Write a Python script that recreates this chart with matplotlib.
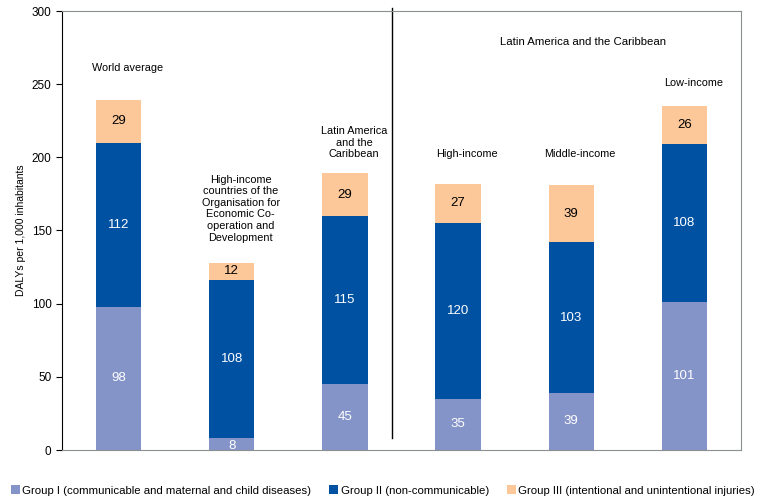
import matplotlib.pyplot as plt
import numpy as np

categories = ["World average",
              "High-income\ncountries of the\nOrganisation for\nEconomic Co-\noperation and\nDevelopment",
              "Latin America\nand the\nCaribbean",
              "High-income", "Middle-income", "Low-income"]
group1 = [98, 8, 45, 35, 39, 101]
group2 = [112, 108, 115, 120, 103, 108]
group3 = [29, 12, 29, 27, 39, 26]
label_y = [261, 165, 210, 202, 202, 251]
series_names = ["Group I (communicable and maternal and child diseases)",
                "Group II (non-communicable)",
                "Group III (intentional and unintentional injuries)"]
colors = ["#8594C8", "#0051A2", "#FCC899"]

plt.rcParams['font.family'] = ['Liberation Sans', 'DejaVu Sans']
fig = plt.figure(figsize=(7.58, 4.98), dpi=100)
ax = fig.add_axes([62/758, 48/498, 679/758, 439/498])

x = np.arange(len(categories))
w = 0.4
b1 = ax.bar(x, group1, w, color=colors[0], label=series_names[0])
b2 = ax.bar(x, group2, w, bottom=group1, color=colors[1], label=series_names[1])
bot3 = np.array(group1) + np.array(group2)
b3 = ax.bar(x, group3, w, bottom=bot3, color=colors[2], label=series_names[2])

for i in range(len(x)):
    ax.text(x[i], group1[i] / 2 if group1[i] > 15 else group1[i] / 2 - 1, str(group1[i]),
            ha='center', va='center', color='white', fontsize=9.5)
    ax.text(x[i], group1[i] + group2[i] / 2, str(group2[i]),
            ha='center', va='center', color='white', fontsize=9.5)
    ax.text(x[i], bot3[i] + group3[i] / 2, str(group3[i]),
            ha='center', va='center', color='black', fontsize=9.5)
    ax.text(x[i] + 0.08, label_y[i], categories[i], ha='center', va='center',
            fontsize=7.8, linespacing=1.2)

ax.text(4.1, 279, "Latin America and the Caribbean", ha='center', va='center', fontsize=8.2)
ax.plot([2.42, 2.42], [8, 302], color='black', lw=1, clip_on=False)

ax.set_xlim(-0.5, 5.5)
ax.set_ylim(0, 300)
ax.set_yticks(np.arange(0, 301, 50))
ax.set_xticks([])
ax.tick_params(axis='y', labelsize=8.5, length=4, direction='out')
ax.set_ylabel("DALYs per 1,000 inhabitants", fontsize=7.5, labelpad=4)
for s in ['top', 'right', 'bottom']:
    ax.spines[s].set_color('#8a8f8f')
ax.spines['left'].set_color('black')

fig.legend(handles=[b1, b2, b3], loc='lower center', bbox_to_anchor=(0.505, -0.016),
           ncol=3, frameon=False, fontsize=8.2, handlelength=0.8, handleheight=0.8,
           handletextpad=0.2, columnspacing=1.6)

fig.savefig("out.png", dpi=100)
